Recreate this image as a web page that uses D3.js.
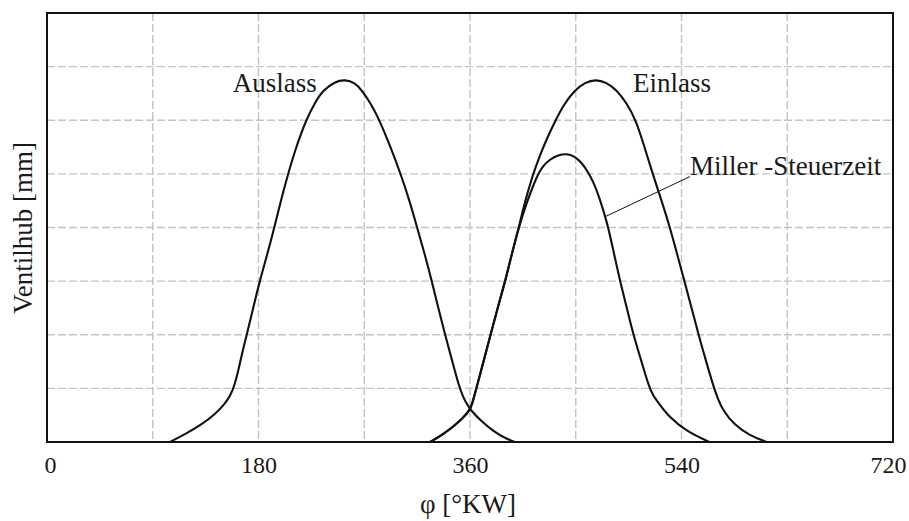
<!DOCTYPE html>
<html>
<head>
<meta charset="utf-8">
<script src="https://cdn.jsdelivr.net/npm/d3@7"></script>
<style>
  html, body { margin: 0; padding: 0; background: #fff; }
  svg { display: block; font-family: "Liberation Serif", "Times New Roman", serif; }
</style>
</head>
<body>
<svg id="chart" width="909" height="521"></svg>
<script>
// Crank angle ticks (°KW) and valve lift grid
const xTicks = [0, 180, 360, 540, 720];
const xGrid = [90, 180, 270, 360, 450, 540, 630];
const yGrid = [1, 2, 3, 4, 5, 6, 7];

// Valve lift curves: [crank angle, lift]
const auslass = [
  [104.7, 0], [118, 0.15], [132, 0.33], [143, 0.52], [151, 0.7], [156, 0.86],
  [159.5, 1.05], [163, 1.35], [166.5, 1.7], [170, 2.0], [175.5, 2.5], [181, 3.0],
  [187.5, 3.5], [193.5, 4.0], [199, 4.5], [204.5, 4.95], [212, 5.5], [220.4, 6.0],
  [228, 6.33], [235, 6.56], [245, 6.72], [253.6, 6.76], [262, 6.7], [268, 6.56],
  [276, 6.3], [283.4, 5.98], [292, 5.52], [301.8, 4.95], [308.5, 4.5], [315, 4.0],
  [321.5, 3.5], [327.5, 3.0], [333, 2.5], [338.8, 2.0], [345, 1.5], [350.5, 1.05],
  [354, 0.85], [357, 0.72], [360.3, 0.6], [370, 0.38], [380, 0.2], [390, 0.07],
  [398.3, 0]
];

const einlass = [
  [326, 0], [336, 0.13], [346, 0.29], [354, 0.45], [360.3, 0.6], [363, 0.8],
  [366, 1.05], [371.5, 1.5], [377.5, 2.0], [383.5, 2.5], [390, 3.0], [395.5, 3.5],
  [401.5, 4.0], [407, 4.5], [413, 4.95], [419, 5.32], [425.3, 5.65], [432.3, 5.98],
  [440, 6.3], [449, 6.56], [458, 6.71], [467, 6.76], [476, 6.71], [485, 6.56],
  [493.3, 6.32], [501.3, 6.0], [508.5, 5.5], [515.5, 5.0], [523, 4.5], [530.2, 4.0],
  [536.3, 3.5], [542.5, 3.0], [548.6, 2.5], [554.5, 2.0], [561, 1.5], [567, 1.05],
  [571, 0.8], [575.5, 0.58], [585, 0.32], [598, 0.12], [612.5, 0]
];

const miller = [
  [326, 0], [336, 0.13], [346, 0.29], [354, 0.45], [360.3, 0.6], [363, 0.8],
  [366, 1.05], [371.5, 1.5], [377.5, 2.0], [383.5, 2.5], [390, 3.0], [395.5, 3.5],
  [401.5, 4.0], [408, 4.45], [416.7, 4.95], [422, 5.15], [428, 5.27], [435, 5.35],
  [442.3, 5.38], [449, 5.33], [455, 5.21], [460, 5.05], [465, 4.85], [470, 4.57],
  [476.9, 4.08], [482, 3.57], [487.7, 3.0], [493.5, 2.5], [499, 2.0], [506, 1.5],
  [512, 1.05], [516, 0.86], [520, 0.74], [530, 0.45], [545, 0.19], [563.6, 0]
];

// Curve labels: [text, angle, lift]
const labels = [
  ["Auslass", 158, 6.53],
  ["Einlass", 498.7, 6.53],
  ["Miller -Steuerzeit", 547.2, 4.98]
];
// Leader line to the Miller curve
const leader = [[474.9, 4.2], [547.2, 4.95]];

const svg = d3.select("#chart");
const plotLeft = 47, plotRight = 893, plotTop = 13, plotBottom = 442;

const x = d3.scaleLinear().domain([0, 720]).range([plotLeft, plotRight]);
const y = d3.scaleLinear().domain([0, 8]).range([plotBottom, plotTop]);

// Dashed grid
const grid = svg.append("g")
  .attr("stroke", "#c4c4c4")
  .attr("stroke-width", 1.4)
  .attr("stroke-dasharray", "8,3");
grid.selectAll("line.v").data(xGrid).join("line")
  .attr("class", "v")
  .attr("x1", d => x(d)).attr("x2", d => x(d))
  .attr("y1", plotTop).attr("y2", plotBottom);
grid.selectAll("line.h").data(yGrid).join("line")
  .attr("class", "h")
  .attr("x1", plotLeft).attr("x2", plotRight)
  .attr("y1", d => y(d)).attr("y2", d => y(d));

// Lift curves (B-spline through the sampled lift points)
const line = d3.line()
  .x(d => x(d[0])).y(d => y(d[1]))
  .curve(d3.curveBasis);

svg.append("g")
  .attr("fill", "none")
  .attr("stroke", "#111")
  .attr("stroke-width", 2.1)
  .attr("stroke-linejoin", "round")
  .selectAll("path").data([auslass, einlass, miller]).join("path")
  .attr("d", line);

// Leader line
svg.append("path")
  .attr("d", d3.line().x(d => x(d[0])).y(d => y(d[1]))(leader))
  .attr("stroke", "#111")
  .attr("stroke-width", 1)
  .attr("fill", "none");

// Frame
svg.append("rect")
  .attr("x", plotLeft).attr("y", plotTop)
  .attr("width", plotRight - plotLeft).attr("height", plotBottom - plotTop)
  .attr("fill", "none")
  .attr("stroke", "#111")
  .attr("stroke-width", 2);

// X axis tick labels
const xAxis = svg.append("g")
  .attr("transform", `translate(0,${plotBottom})`)
  .call(d3.axisBottom(x).tickValues(xTicks).tickSize(0).tickFormat(d3.format("d")));
xAxis.select(".domain").remove();
xAxis.selectAll("text")
  .attr("y", 31).attr("dy", 0)
  .attr("fill", "#1a1a1a")
  .style("font-family", "'Liberation Serif', serif")
  .style("font-size", "24px")
  .attr("dx", (d, i) => i === 0 ? 3 : (i === xTicks.length - 1 ? -5 : 0));

// Curve labels
svg.append("g")
  .attr("fill", "#1a1a1a")
  .style("font-size", "27px")
  .selectAll("text").data(labels).join("text")
  .attr("x", d => x(d[1])).attr("y", d => y(d[2]))
  .text(d => d[0]);

// Axis titles
svg.append("text")
  .attr("x", 468).attr("y", 513)
  .attr("text-anchor", "middle")
  .attr("fill", "#1a1a1a")
  .style("font-size", "27px")
  .text("φ [°KW]");

svg.append("text")
  .attr("transform", "translate(32,228) rotate(-90)")
  .attr("text-anchor", "middle")
  .attr("fill", "#1a1a1a")
  .style("font-size", "27px")
  .text("Ventilhub [mm]");
</script>
</body>
</html>
